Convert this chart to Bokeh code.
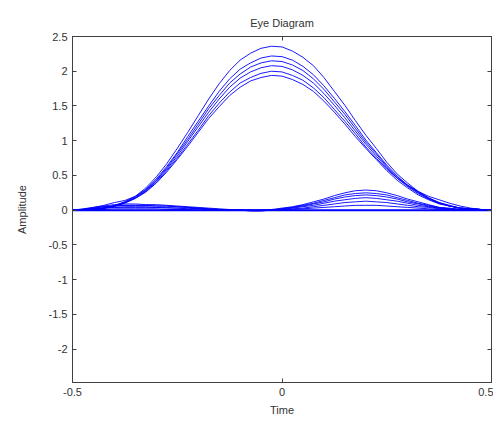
from bokeh.plotting import figure
from bokeh.models import Range1d, LinearAxis, FixedTicker
from bokeh.embed import file_html
from bokeh.resources import INLINE

# ---------------- data ----------------
t = [-0.500, -0.475, -0.450, -0.425, -0.400, -0.375, -0.350, -0.325, -0.300, -0.275,
     -0.250, -0.225, -0.200, -0.175, -0.150, -0.125, -0.100, -0.075, -0.050, -0.025,
     0.000, 0.025, 0.050, 0.075, 0.100, 0.125, 0.150, 0.175, 0.200, 0.225,
     0.250, 0.275, 0.300, 0.325, 0.350, 0.375, 0.400, 0.425, 0.450, 0.475, 0.500]

upper_a = [0.00, 0.00, 0.01, 0.03, 0.07, 0.12, 0.20, 0.32, 0.48, 0.67,
           0.89, 1.12, 1.36, 1.60, 1.82, 2.01, 2.16, 2.26, 2.33, 2.36,
           2.35, 2.29, 2.20, 2.08, 1.91, 1.71, 1.51, 1.29, 1.08, 0.89,
           0.69, 0.52, 0.39, 0.27, 0.18, 0.11, 0.07, 0.03, 0.02, 0.01, 0.00]
upper_b = [0.00, 0.00, 0.01, 0.03, 0.06, 0.12, 0.19, 0.30, 0.45, 0.63,
           0.83, 1.06, 1.28, 1.50, 1.71, 1.89, 2.03, 2.12, 2.19, 2.22,
           2.21, 2.16, 2.07, 1.95, 1.79, 1.61, 1.42, 1.22, 1.01, 0.83,
           0.65, 0.49, 0.36, 0.26, 0.17, 0.11, 0.06, 0.03, 0.02, 0.01, 0.00]
upper_c = [0.00, 0.01, 0.04, 0.07, 0.11, 0.14, 0.20, 0.29, 0.43, 0.61,
           0.81, 1.02, 1.24, 1.46, 1.65, 1.83, 1.96, 2.06, 2.12, 2.15,
           2.14, 2.09, 2.01, 1.89, 1.74, 1.56, 1.38, 1.18, 0.98, 0.81,
           0.63, 0.48, 0.35, 0.25, 0.17, 0.10, 0.06, 0.03, 0.02, 0.01, 0.00]
upper_d = [0.00, 0.00, 0.01, 0.03, 0.06, 0.11, 0.18, 0.28, 0.42, 0.59,
           0.78, 0.99, 1.20, 1.41, 1.60, 1.77, 1.90, 1.99, 2.05, 2.08,
           2.07, 2.02, 1.94, 1.83, 1.68, 1.51, 1.33, 1.14, 0.95, 0.78,
           0.61, 0.46, 0.34, 0.24, 0.16, 0.10, 0.06, 0.03, 0.02, 0.01, 0.00]
upper_e = [0.00, 0.00, 0.01, 0.03, 0.06, 0.11, 0.17, 0.27, 0.40, 0.57,
           0.75, 0.95, 1.15, 1.36, 1.54, 1.70, 1.83, 1.91, 1.97, 2.00,
           1.99, 1.94, 1.87, 1.76, 1.62, 1.45, 1.28, 1.10, 0.91, 0.75,
           0.59, 0.46, 0.36, 0.27, 0.20, 0.15, 0.10, 0.06, 0.03, 0.01, 0.00]
upper_f = [0.00, 0.00, 0.01, 0.03, 0.06, 0.10, 0.17, 0.26, 0.39, 0.55,
           0.73, 0.92, 1.12, 1.32, 1.49, 1.65, 1.77, 1.86, 1.91, 1.94,
           1.93, 1.88, 1.81, 1.71, 1.57, 1.41, 1.24, 1.06, 0.89, 0.73,
           0.57, 0.43, 0.32, 0.22, 0.15, 0.09, 0.06, 0.03, 0.02, 0.01, 0.00]

lower_a = [0.00, 0.01, 0.02, 0.03, 0.04, 0.04, 0.04, 0.04, 0.04, 0.03,
           0.03, 0.02, 0.02, 0.01, 0.01, 0.00, 0.00, 0.00, 0.00, 0.01,
           0.03, 0.05, 0.08, 0.12, 0.16, 0.21, 0.25, 0.28, 0.29, 0.28,
           0.25, 0.21, 0.16, 0.12, 0.08, 0.04, 0.03, 0.01, 0.00, 0.00, 0.00]
lower_b = [0.00, 0.01, 0.03, 0.05, 0.06, 0.07, 0.07, 0.07, 0.06, 0.06,
           0.05, 0.04, 0.03, 0.02, 0.01, 0.00, 0.00, -0.01, -0.01, 0.00,
           0.02, 0.04, 0.07, 0.10, 0.14, 0.18, 0.22, 0.24, 0.25, 0.24,
           0.22, 0.18, 0.14, 0.10, 0.07, 0.04, 0.02, 0.01, 0.00, 0.00, 0.00]
lower_c = [0.00, 0.01, 0.03, 0.05, 0.06, 0.07, 0.07, 0.07, 0.06, 0.06,
           0.05, 0.04, 0.03, 0.02, 0.01, 0.00, 0.00, -0.01, -0.01, 0.00,
           0.02, 0.04, 0.06, 0.09, 0.12, 0.16, 0.19, 0.21, 0.22, 0.21,
           0.19, 0.16, 0.12, 0.09, 0.06, 0.03, 0.02, 0.01, 0.00, 0.00, 0.00]
lower_d = [0.00, 0.02, 0.04, 0.06, 0.08, 0.09, 0.09, 0.08, 0.08, 0.07,
           0.06, 0.05, 0.04, 0.03, 0.02, 0.01, 0.00, 0.00, 0.00, 0.00,
           0.01, 0.03, 0.05, 0.07, 0.10, 0.13, 0.15, 0.17, 0.18, 0.17,
           0.15, 0.13, 0.10, 0.07, 0.05, 0.03, 0.02, 0.01, 0.00, 0.00, 0.00]
lower_e = [0.00, 0.01, 0.02, 0.03, 0.04, 0.05, 0.05, 0.05, 0.04, 0.04,
           0.03, 0.03, 0.02, 0.01, 0.01, 0.00, 0.00, 0.00, 0.00, 0.00,
           0.01, 0.02, 0.03, 0.05, 0.07, 0.09, 0.11, 0.12, 0.13, 0.12,
           0.11, 0.09, 0.07, 0.05, 0.04, 0.02, 0.01, 0.01, 0.00, 0.00, 0.00]
lower_f = [0.00, 0.00, 0.01, 0.01, 0.02, 0.02, 0.02, 0.02, 0.02, 0.01,
           0.01, 0.01, 0.00, 0.00, 0.00, 0.00, 0.00, 0.00, 0.00, 0.00,
           0.00, 0.01, 0.02, 0.03, 0.04, 0.05, 0.06, 0.07, 0.07, 0.07,
           0.06, 0.05, 0.04, 0.03, 0.02, 0.01, 0.01, 0.00, 0.00, 0.00, 0.00]
zero_trace = [0.00, 0.00, 0.00, 0.00, 0.00, 0.00, 0.00, 0.00, 0.00, 0.00,
              0.00, 0.00, 0.00, 0.00, 0.00, 0.00, 0.00, 0.00, 0.00, 0.00,
              0.00, 0.00, 0.00, 0.00, 0.00, 0.00, 0.00, 0.00, 0.00, 0.00,
              0.00, 0.00, 0.00, 0.00, 0.00, 0.00, 0.00, 0.00, 0.00, 0.00, 0.00]

upper_traces = [upper_a, upper_b, upper_c, upper_d, upper_e, upper_f]
lower_traces = [lower_a, lower_b, lower_c, lower_d, lower_e, lower_f]

x_ticks = [-0.5, 0.0, 0.5]
x_tick_labels = ["-0.5", "0", "0.5"]
y_ticks = [-2.0, -1.5, -1.0, -0.5, 0.0, 0.5, 1.0, 1.5, 2.0, 2.5]
y_tick_labels = ["-2", "-1.5", "-1", "-0.5", "0", "0.5", "1", "1.5", "2", "2.5"]

title_text = "Eye Diagram"
x_label = "Time"
y_label = "Amplitude"

# ---------------- style ----------------
FONT = "Liberation Sans"
TXT = "#333333"
AX = "#404040"
BLUE = "#0000ff"

p = figure(width=493, height=422, output_backend="svg", toolbar_location=None,
           x_range=Range1d(-0.5, 0.5), y_range=Range1d(-2.48, 2.5),
           min_border_left=72, min_border_right=2, min_border_top=36, min_border_bottom=40,
           title=title_text)
p.title.align = "center"
p.title.text_font = FONT
p.title.text_font_size = "11px"
p.title.text_font_style = "normal"
p.title.text_color = TXT
p.title.standoff = 16
p.grid.visible = False
p.outline_line_color = AX
p.background_fill_color = "white"
p.border_fill_color = "white"

for ax, ticks, labels, lab, lstand in ((p.xaxis[0], x_ticks, x_tick_labels, x_label, 5),
                                       (p.yaxis[0], y_ticks, y_tick_labels, y_label, 18)):
    ax.ticker = FixedTicker(ticks=ticks)
    ax.major_label_overrides = {k: v for k, v in zip(ticks, labels)}
    ax.axis_label = lab
    ax.axis_label_text_font = FONT
    ax.axis_label_text_font_size = "11px"
    ax.axis_label_text_font_style = "normal"
    ax.axis_label_text_color = TXT
    ax.major_label_text_font = FONT
    ax.major_label_text_font_size = "11px"
    ax.major_label_text_color = TXT
    ax.axis_line_color = AX
    ax.major_tick_line_color = AX
    ax.major_tick_in = 4
    ax.major_tick_out = 0
    ax.minor_tick_line_color = None
    ax.major_label_standoff = 5
    ax.axis_label_standoff = lstand

for loc, ticks in (("right", y_ticks), ("above", x_ticks)):
    a = LinearAxis(ticker=FixedTicker(ticks=ticks),
                   major_label_overrides={k: "" for k in ticks},
                   major_label_standoff=0, major_tick_in=4, major_tick_out=0,
                   minor_tick_line_color=None, axis_line_color=AX, major_tick_line_color=AX)
    p.add_layout(a, loc)

for tr in lower_traces:
    p.line(t, tr, line_color=BLUE, line_width=1, line_alpha=0.9)
p.line(t, zero_trace, line_color=BLUE, line_width=2)
for tr in upper_traces:
    p.line(t, tr, line_color=BLUE, line_width=1, line_alpha=0.9)

open("out.html", "w").write(file_html(p, INLINE))
